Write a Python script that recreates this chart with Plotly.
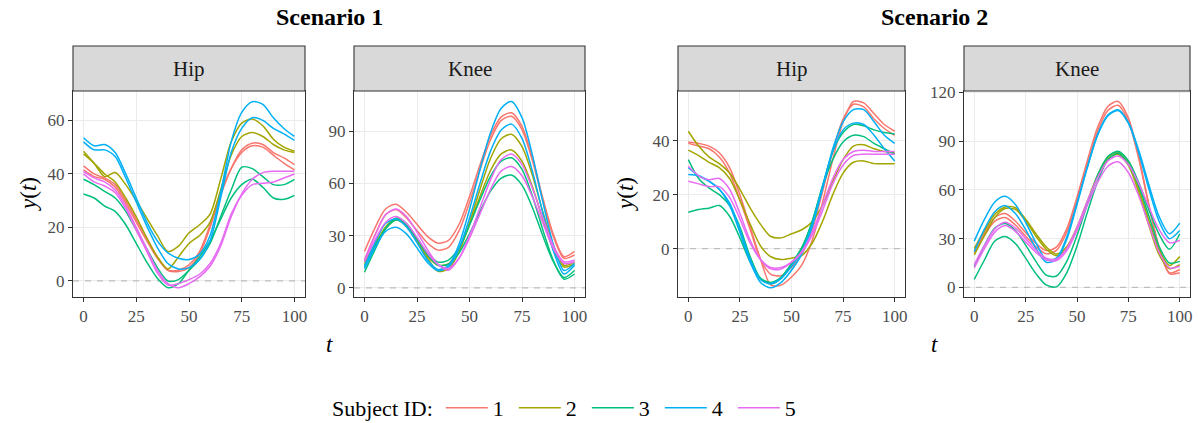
import plotly.graph_objects as go

# ---------------- data ----------------
T = [0, 5, 10, 15, 20, 25, 30, 35, 40, 45, 50, 55, 60, 65, 70, 75, 80, 85, 90, 95, 100]
subjects = ["1", "2", "3", "4", "5"]
colors = ["#F8766D", "#A3A500", "#00BF7D", "#00B0F6", "#E76BF3"]
x_ticks = [0, 25, 50, 75, 100]

# Scenario 1 - Hip
s1_hip_1a = [43, 40, 38.5, 36, 30, 23, 16, 9, 4, 3.5, 5, 10, 20, 32, 42, 49, 51.5, 51, 48, 46, 43.5]
s1_hip_1b = [41.5, 39, 38, 35, 29, 22, 15, 8.5, 4, 4, 6, 11, 21, 33, 42, 48, 50.5, 50, 47, 44, 41.5]
s1_hip_2a = [48.5, 44, 39, 40.5, 36, 30, 23.5, 17, 11, 13, 18, 21, 25, 38, 52, 59, 60.5, 58, 53, 50, 48.5]
s1_hip_2b = [47.5, 44, 40, 37, 31, 24, 16, 9, 4.5, 9, 14, 17, 22, 34, 47, 54, 55.5, 54, 51, 49, 48]
s1_hip_3a = [38, 36, 33.5, 31, 26, 19, 12, 5, 0, 0.5, 4, 8, 14, 24, 34, 42.5, 42, 39, 36, 36, 38]
s1_hip_3b = [32.5, 31, 28, 26, 21, 14, 7, 1, -2.5, -1, 4, 9, 15, 23, 31, 36, 38, 35, 31, 30.5, 32]
s1_hip_4a = [53.5, 50.5, 51, 48, 40, 31, 22, 15, 10.5, 8.5, 8, 10, 17, 33, 52, 63, 67, 66, 61, 57, 54]
s1_hip_4b = [52, 49, 49, 46.5, 38.5, 29.5, 20.5, 12.5, 6.5, 4.5, 5, 8, 15, 31, 48, 57, 61, 60, 57, 55, 52.5]
s1_hip_5a = [41, 38.5, 37, 34, 28, 20, 12, 4, -1, -2.5, -1, 1.5, 5.5, 13, 24, 32.5, 38, 40.5, 41, 41, 41]
s1_hip_5b = [40, 37, 35.5, 33, 27, 19, 11, 3, -1.5, -1, 0.5, 2.5, 6.5, 14, 25, 32, 36, 36.5, 37, 38.5, 40]

# Scenario 1 - Knee
s1_knee_1a = [21, 34.5, 45.3, 48, 43.4, 36.5, 29.6, 25.7, 27.3, 36.4, 52.4, 70.6, 87.3, 98, 100.5, 92.7, 74.4, 51.2, 30.5, 18, 21]
s1_knee_1b = [16, 30.5, 42, 45, 40.2, 33, 25.8, 21.7, 23.3, 32.7, 49, 67.8, 85, 96, 98.5, 90.8, 72.8, 49.8, 29.3, 17, 19]
s1_knee_2a = [15, 25, 35, 40, 36.5, 27, 17, 9.5, 11, 20.5, 37.4, 56.6, 74.3, 85.5, 88.2, 81.1, 64.5, 43.3, 24.4, 13, 15]
s1_knee_2b = [14, 24, 34, 39, 35.5, 27, 18, 13, 14, 22, 36.3, 52.5, 67.4, 76.8, 79.2, 72.7, 57.9, 39, 22, 12, 14]
s1_knee_3a = [9, 22, 34, 40, 37, 28.5, 20, 14.8, 16, 23, 36, 50.6, 64, 72.6, 74.7, 68, 52.6, 33, 15.5, 5, 8]
s1_knee_3b = [13, 24, 34, 39, 36, 28, 19, 13, 13.6, 20, 31, 43.8, 55.5, 62.9, 64.8, 59, 46, 29.6, 14.9, 6, 10]
s1_knee_4a = [12, 26, 37, 39.5, 35, 26, 16, 10.5, 13, 25, 45, 68, 89, 103, 107, 97.7, 76, 49, 24.6, 10, 14]
s1_knee_4b = [11, 23, 32.5, 34.8, 31, 23, 14.6, 9.8, 12, 22.5, 40, 60, 78.5, 90.5, 94, 85.8, 66.7, 42.6, 21, 8, 13]
s1_knee_5a = [16, 30, 42, 45.3, 41, 32, 22, 13.5, 10.2, 17, 30, 46, 62, 73.5, 76.8, 70.8, 57, 40, 24, 15, 16]
s1_knee_5b = [15, 27.5, 37.5, 41, 37, 29, 20, 13.5, 11.2, 17, 28.5, 42.5, 56.5, 67, 69.7, 64.4, 52, 37, 22.5, 14, 15]

# Scenario 2 - Hip
s2_hip_1a = [39.5, 39, 38, 35.5, 30, 20, 8, -4, -13.5, -13.5, -10.5, -6, 3, 17, 33, 47, 54.5, 54, 50, 46, 43.5]
s2_hip_1b = [39, 38, 37, 34, 28, 18, 7, -4, -9.5, -10, -7, -2, 7, 21, 36, 48, 53.5, 52.5, 48, 44.5, 42]
s2_hip_2a = [43.5, 38, 34, 31.5, 28, 22, 15, 9, 4.5, 4, 5.5, 7, 10, 16, 25, 33, 38, 38.5, 37, 36, 35.5]
s2_hip_2b = [36.5, 34.5, 32, 30, 26, 18, 9, 1, -3, -4, -3.5, -2.5, 2, 10, 20, 28, 32, 32.5, 31.5, 31.5, 31.5]
s2_hip_3a = [33, 26, 22.5, 20, 16, 8, -3, -11, -13, -11, -6, 0, 10, 23, 33, 39.5, 42, 41.5, 39, 37, 35]
s2_hip_3b = [13.5, 14.5, 15, 16, 12, 4, -5, -11, -12.5, -10.5, -5.5, 0.5, 10, 23, 36, 43, 46, 45.5, 44, 43, 42.5]
s2_hip_4a = [30, 27, 25, 22, 16, 6, -5, -12.5, -14.5, -12.5, -8, -2, 8, 22, 37, 47, 51.5, 51.5, 47, 42, 39]
s2_hip_4b = [27.5, 27, 25, 22, 17, 7, -4, -11.5, -13, -11, -6.5, -1, 9, 23, 36, 44, 46.5, 46, 42, 37, 32.5]
s2_hip_5a = [30.5, 27, 25.5, 26, 22, 13, 3, -4, -7.5, -7.5, -5, -1, 6, 16, 26, 33, 36, 36.5, 36, 36, 36]
s2_hip_5b = [25, 24, 23, 23, 19, 11, 2, -4, -7, -7, -5, -1.5, 5, 14, 24, 31, 34.5, 35, 35, 35, 35]

# Scenario 2 - Knee
s2_knee_1a = [22, 33.5, 43, 45.5, 40.8, 33.7, 27, 22.7, 24.8, 36, 55.5, 77.8, 98.3, 111.3, 114.4, 104.3, 80.8, 50.8, 24, 8.5, 9]
s2_knee_1b = [21, 32, 40.8, 43, 38.4, 31.5, 25, 20.7, 22.8, 33.9, 53.3, 75.5, 95.9, 108.8, 112, 102.1, 79.4, 50.4, 24.5, 9, 11]
s2_knee_2a = [24, 35, 45, 49.5, 49, 42, 33, 25, 20.5, 25, 37, 53, 69, 80, 83.3, 77, 61, 41, 23, 13.5, 19]
s2_knee_2b = [20, 32, 43, 48.5, 48, 41, 31.5, 23.5, 19.5, 24, 36, 52, 68, 78.8, 81.8, 75, 58.6, 38, 20, 11.5, 14]
s2_knee_3a = [13, 26, 36.5, 39.3, 35, 26, 16, 7.5, 7, 16, 32, 51, 69, 80.5, 83.8, 78, 64.6, 47.7, 32.6, 23.5, 33]
s2_knee_3b = [5, 17, 28.5, 31.3, 27, 18, 8.5, 1.5, 0.3, 9, 25.5, 46, 65, 78.5, 82.5, 76, 62.5, 44, 25, 15, 16]
s2_knee_4a = [28.5, 42, 52.5, 56, 51, 40, 27.5, 17, 18, 31, 52, 74, 94, 106, 109.3, 101.5, 84.5, 63, 43.5, 33, 39.5]
s2_knee_4b = [22, 36, 46.5, 50.3, 45.5, 35.5, 24, 15.5, 17, 29.5, 51, 73.5, 93.5, 105.5, 108.8, 101, 83, 60.5, 40.5, 30, 35]
s2_knee_5a = [14, 26, 36, 40, 36.5, 30, 23, 18, 17.5, 24, 37, 53, 67.5, 77.8, 80.8, 75.6, 64, 49.5, 35.5, 27.5, 29]
s2_knee_5b = [12, 24, 34, 38, 34.5, 28, 21.5, 17, 16.5, 22.5, 35, 50.5, 64.5, 74.5, 77.3, 70.7, 56.5, 38.5, 21.5, 12, 13]

panels = [
    dict(name="Hip", curves=[(s1_hip_1a, s1_hip_1b), (s1_hip_2a, s1_hip_2b), (s1_hip_3a, s1_hip_3b),
                             (s1_hip_4a, s1_hip_4b), (s1_hip_5a, s1_hip_5b)],
         yrange=[-6, 71], yticks=[0, 20, 40, 60], xpx=(73, 305)),
    dict(name="Knee", curves=[(s1_knee_1a, s1_knee_1b), (s1_knee_2a, s1_knee_2b), (s1_knee_3a, s1_knee_3b),
                              (s1_knee_4a, s1_knee_4b), (s1_knee_5a, s1_knee_5b)],
         yrange=[-5.2, 113], yticks=[0, 30, 60, 90], xpx=(354, 585)),
    dict(name="Hip", curves=[(s2_hip_1a, s2_hip_1b), (s2_hip_2a, s2_hip_2b), (s2_hip_3a, s2_hip_3b),
                             (s2_hip_4a, s2_hip_4b), (s2_hip_5a, s2_hip_5b)],
         yrange=[-17.9, 58.4], yticks=[0, 20, 40], xpx=(678, 905)),
    dict(name="Knee", curves=[(s2_knee_1a, s2_knee_1b), (s2_knee_2a, s2_knee_2b), (s2_knee_3a, s2_knee_3b),
                              (s2_knee_4a, s2_knee_4b), (s2_knee_5a, s2_knee_5b)],
         yrange=[-5.9, 120.8], yticks=[0, 30, 60, 90, 120], xpx=(964, 1190)),
]

# ---------------- figure ----------------
W, H = 1198, 423
FONT = "Liberation Serif"
PLOT_TOP, PLOT_BOT = 91, 297
STRIP_TOP = 46

def px(x):
    return x / W

def py(y):
    return 1 - y / H

fig = go.Figure()
shapes = []
annotations = []
layout_axes = {}

for i, p in enumerate(panels):
    k = "" if i == 0 else str(i + 1)
    xa, ya = "x" + k, "y" + k
    # zero reference line (drawn first so curves sit on top)
    fig.add_trace(go.Scatter(x=[-5, 105], y=[0, 0], mode="lines", xaxis=xa, yaxis=ya,
                             line=dict(color="#BEBEBE", width=1.3, dash="6px,6px"),
                             showlegend=False, hoverinfo="skip"))
    for s, (ca, cb) in enumerate(p["curves"]):
        for j, c in enumerate((ca, cb)):
            fig.add_trace(go.Scatter(
                x=T, y=c, mode="lines", xaxis=xa, yaxis=ya,
                line=dict(color=colors[s], width=1.5, shape="spline", smoothing=0.8),
                name=subjects[s], legendgroup=subjects[s],
                showlegend=(i == 0 and j == 0), hoverinfo="skip",
            ))
    x0, x1 = p["xpx"]
    common = dict(
        showgrid=True, gridcolor="#EBEBEB", gridwidth=1.4, zeroline=False,
        showline=True, linecolor="#333333", linewidth=1.1, mirror=True,
        ticks="outside", ticklen=4, tickcolor="#333333", tickwidth=1,
        tickfont=dict(family=FONT, size=17, color="#4D4D4D"),
    )
    layout_axes["xaxis" + k] = dict(
        domain=[px(x0), px(x1)], anchor=ya, range=[-5, 105],
        tickvals=x_ticks, ticktext=[str(v) for v in x_ticks], **common)
    layout_axes["yaxis" + k] = dict(
        domain=[py(PLOT_BOT), py(PLOT_TOP)], anchor=xa, range=p["yrange"],
        tickvals=p["yticks"], ticktext=[str(v) for v in p["yticks"]], **common)
    # strip
    shapes.append(dict(type="rect", xref="paper", yref="paper",
                       x0=px(x0), x1=px(x1), y0=py(PLOT_TOP), y1=py(STRIP_TOP),
                       fillcolor="#D9D9D9", line=dict(color="#333333", width=1.1)))
    annotations.append(dict(text=p["name"], xref="paper", yref="paper",
                            x=px((x0 + x1) / 2), y=py((STRIP_TOP + PLOT_TOP) / 2),
                            showarrow=False, xanchor="center", yanchor="middle",
                            font=dict(family=FONT, size=21, color="#1A1A1A")))

# group titles and axis titles
for title, cx, ytx in [("Scenario 1", 329, 28), ("Scenario 2", 934, 625)]:
    annotations.append(dict(text="<b>" + title + "</b>", xref="paper", yref="paper",
                            x=px(cx), y=py(17), showarrow=False, xanchor="center", yanchor="middle",
                            font=dict(family=FONT, size=24, color="black")))
    annotations.append(dict(text="<i>t</i>", xref="paper", yref="paper",
                            x=px(cx), y=py(344), showarrow=False, xanchor="center", yanchor="middle",
                            font=dict(family=FONT, size=23, color="black")))
    annotations.append(dict(text="<i>y</i>(<i>t</i>)", xref="paper", yref="paper",
                            x=px(ytx), y=py(194), showarrow=False, xanchor="center", yanchor="middle",
                            textangle=-90, font=dict(family=FONT, size=23, color="black")))

fig.update_layout(
    width=W, height=H, margin=dict(l=0, r=0, t=0, b=0, autoexpand=False),
    paper_bgcolor="white", plot_bgcolor="white",
    shapes=shapes, annotations=annotations,
    showlegend=True,
    legend=dict(orientation="h", x=px(330), xanchor="left", y=py(408), yanchor="middle",
                title=dict(text="Subject ID:", side="left", font=dict(family=FONT, size=22, color="black")),
                font=dict(family=FONT, size=22, color="black"),
                itemwidth=42, entrywidth=16, entrywidthmode="pixels", bgcolor="rgba(0,0,0,0)",
                itemclick=False, itemdoubleclick=False),
    **layout_axes,
)

fig.write_html("out.html")
